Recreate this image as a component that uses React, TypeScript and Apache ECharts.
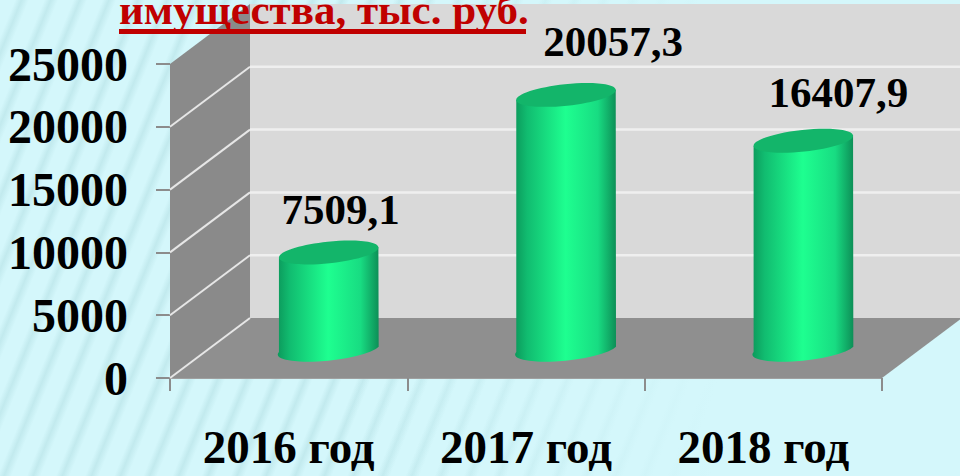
import React, { useEffect, useRef } from "react";
import * as echarts from "echarts";

const categories = ["2016 год", "2017 год", "2018 год"];
const values = [7509.1, 20057.3, 16407.9];
const valueLabels = ["7509,1", "20057,3", "16407,9"];
const gridTicks = [0, 5000, 10000, 15000, 20000, 25000];
const titleText = "имущества, тыс. руб.";

const labelOffsetX = [12, 47, 35];
const labelOffsetY = [-43, -53, -48];
const FONT = '"Liberation Serif", "Times New Roman", serif';
const DEPTH_X = 80;
const DEPTH_Y = 60;
const BAR_DEPTH_X = 0.5;
const BAR_DEPTH_Y = 0.52;
const A = 50;
const B = 10.8;
const TILT = (6 * Math.PI) / 180;

const bodyGradient = {
  type: "linear", x: 0, y: 0, x2: 1, y2: 0,
  colorStops: [
    { offset: 0, color: "#0C9A5C" },
    { offset: 0.12, color: "#11BC70" },
    { offset: 0.5, color: "#1EFF90" },
    { offset: 0.82, color: "#18DC82" },
    { offset: 1, color: "#0D8F57" },
  ],
};

export default function App() {
  const ref = useRef<HTMLDivElement>(null);
  useEffect(() => {
    document.body.style.margin = "0";
    const chart = echarts.init(ref.current!, undefined, { renderer: "svg" });
    chart.setOption({
      animation: false,
      backgroundColor: "transparent",
      grid: { left: 170, right: 78, top: 64, bottom: 98, containLabel: false, outerBoundsMode: "none" },
      xAxis: {
        type: "category",
        data: categories,
        axisLine: { show: true, lineStyle: { color: "#A0A0A0", width: 1 } },
        axisTick: { show: true, length: 13, alignWithLabel: false, lineStyle: { color: "#8C8C8C", width: 2 } },
        axisLabel: { color: "#000", fontFamily: FONT, fontWeight: "bold", fontSize: 47, margin: 45 },
        splitLine: { show: false },
      },
      yAxis: {
        type: "value",
        min: 0,
        max: 25000,
        interval: 5000,
        axisLine: { show: false },
        axisTick: { show: true, length: 14, lineStyle: { color: "#8C8C8C", width: 2 } },
        axisLabel: { color: "#000", fontFamily: FONT, fontWeight: "bold", fontSize: 48, margin: 42, formatter: (v: number) => String(v) },
        splitLine: { show: false },
      },
      series: [
        {
          type: "custom",
          coordinateSystem: "cartesian2d",
          silent: true,
          z: 1,
          clip: false,
          data: gridTicks.map((t) => [0, t]),
          renderItem: (params: any, api: any) => {
            const t = api.value(1);
            const r = params.coordSys;
            const y = api.coord([0, t])[1];
            const left = r.x;
            const right = r.x + r.width;
            const top = r.y;
            const bottom = r.y + r.height;
            const children: any[] = [];
            if (params.dataIndex === 0) {
              children.push(
                { type: "polygon", shape: { points: [[left + DEPTH_X, top - DEPTH_Y], [right + DEPTH_X, top - DEPTH_Y], [right + DEPTH_X, bottom - DEPTH_Y], [left + DEPTH_X, bottom - DEPTH_Y]] }, style: { fill: "#D9D9D9" } },
                { type: "polygon", shape: { points: [[left, top], [left + DEPTH_X, top - DEPTH_Y], [left + DEPTH_X, bottom - DEPTH_Y], [left, bottom]] }, style: { fill: "#8A8A8A" } },
                { type: "polygon", shape: { points: [[left, bottom], [left + DEPTH_X, bottom - DEPTH_Y], [right + DEPTH_X, bottom - DEPTH_Y], [right, bottom]] }, style: { fill: "#8F8F8F" } },
              );
            }
            if (t < 25000) {
              children.push({
                type: "line",
                shape: { x1: left, y1: y, x2: left + DEPTH_X, y2: y - DEPTH_Y },
                style: { stroke: "#E6E6E6", lineWidth: 2 },
              });
              if (t > 0) {
                children.push({
                  type: "line",
                  shape: { x1: left + DEPTH_X, y1: y - DEPTH_Y, x2: right + DEPTH_X, y2: y - DEPTH_Y },
                  style: { stroke: "#EFEFEF", lineWidth: 2.5 },
                });
              }
            }
            return { type: "group", children };
          },
        },
        {
          type: "custom",
          coordinateSystem: "cartesian2d",
          silent: true,
          z: 2,
          clip: false,
          data: values.map((v, i) => [i, v]),
          renderItem: (params: any, api: any) => {
            const i = params.dataIndex;
            const base = api.coord([i, 0]);
            const top = api.coord([i, api.value(1)]);
            const cx = base[0] + BAR_DEPTH_X * DEPTH_X;
            const by = base[1] - BAR_DEPTH_Y * DEPTH_Y;
            const ty = top[1] - BAR_DEPTH_Y * DEPTH_Y;
            const dx = A * Math.cos(TILT);
            const dy = A * Math.sin(TILT);
            const rot = -(TILT * 180) / Math.PI;
            const d =
              `M${cx - dx} ${ty + dy} L${cx - dx} ${by + dy} ` +
              `A${A} ${B} ${rot} 0 0 ${cx + dx} ${by - dy} ` +
              `L${cx + dx} ${ty - dy} Z`;
            return {
              type: "group",
              children: [
                { type: "path", shape: { pathData: d }, style: { fill: bodyGradient } },
                {
                  type: "ellipse",
                  x: cx,
                  y: ty,
                  rotation: TILT,
                  shape: { cx: 0, cy: 0, rx: A, ry: B },
                  style: { fill: "#13B56A" },
                },
                {
                  type: "text",
                  x: cx + labelOffsetX[i],
                  y: ty + labelOffsetY[i],
                  style: {
                    text: valueLabels[i],
                    fill: "#000",
                    font: `bold 43px ${FONT}`,
                    textAlign: "center",
                    textVerticalAlign: "middle",
                  },
                },
              ],
            };
          },
        },
      ],
      graphic: [
        {
          type: "text",
          left: 119,
          top: -12,
          z: 10,
          style: { text: titleText, fill: "#C00000", font: `bold 43px ${FONT}` },
        },
        {
          type: "rect",
          left: 119,
          top: 29,
          z: 10,
          shape: { width: 407, height: 5 },
          style: { fill: "#C00000" },
        },
      ],
    });
    return () => chart.dispose();
  }, []);
  return (
    <div
      ref={ref}
      style={{
        position: "absolute",
        left: 0,
        top: 0,
        width: 960,
        height: 476,
        background:
          "linear-gradient(90deg, rgba(212,247,251,0) 0%, rgba(212,247,251,0) 35%, #D4F7FB 75%), repeating-linear-gradient(112deg, #D4F7FB 0px, #D4F7FB 14px, #C2EAEE 20px, #D4F7FB 27px)",
      }}
    />
  );
}
